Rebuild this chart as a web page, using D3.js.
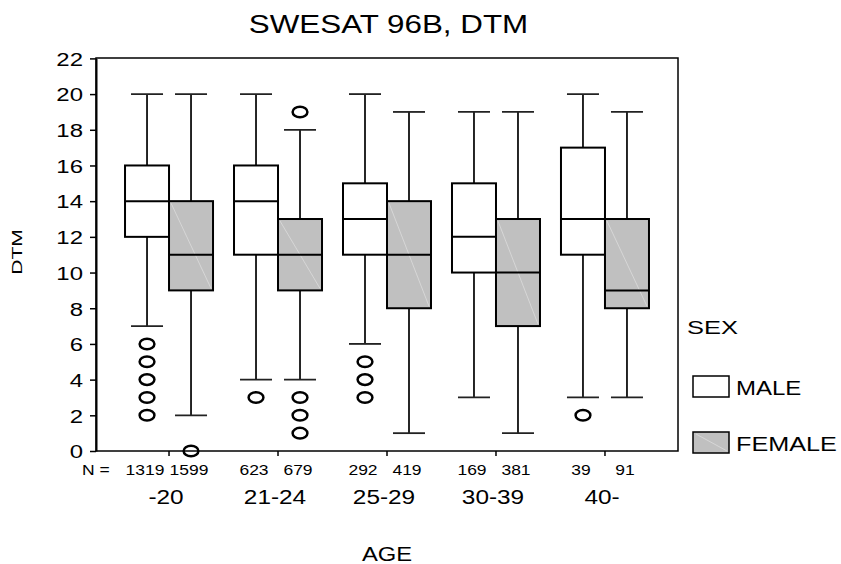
<!DOCTYPE html>
<html lang="en">
<head>
<meta charset="utf-8" />
<title>SWESAT 96B, DTM</title>
<style>
   body { margin:0; background:#fff; }
   text { font-family:"Liberation Sans", Arial, sans-serif; fill:#000; }
</style>
<script src="https://d3js.org/d3.v7.min.js"></script>
</head>
<body>
<svg id="main" width="841" height="564"></svg>
<script>
// data
var ages = ['-20','21-24','25-29','30-39','40-'];
var sexes = ['MALE','FEMALE'];
var nMale = [1319,623,292,169,39];
var nFemale = [1599,679,419,381,91];
// [low whisker, q1, median, q3, high whisker]
var maleStats = [[7,12,14,16,20],[4,11,14,16,20],[6,11,13,15,20],[3,10,12,15,19],[3,11,13,17,20]];
var femaleStats = [[2,9,11,14,20],[4,9,11,13,18],[1,8,11,14,19],[1,7,10,13,19],[3,8,9,13,19]];
var maleOutliers = [[6,5,4,3,2],[3],[5,4,3],[],[2]];
var femaleOutliers = [[0],[19,3,2,1],[],[],[]];
var yTicks = [0,2,4,6,8,10,12,14,16,18,20,22];

var svg = d3.select('#main');
var pLeft = 96, pRight = 678, pTop = 58, pBottom = 451;

var y = d3.scaleLinear().domain([0,22]).range([pBottom,pTop+0.4]);
var x = d3.scaleBand().domain(ages).range([pLeft,pRight]).paddingInner(0).paddingOuter(0.17);
var xs = d3.scaleBand().domain(sexes).range([-44,44]);
var fills = {MALE:'#ffffff', FEMALE:'#c0c0c0'};

function fcx(age) { return x(age)+x.bandwidth()/2; };
// stretched text, like the original rendering
function ftext(g,str,tx,ty,size,sx,anchor,rot) {
   return g.append('text')
      .attr('transform','translate('+tx+','+ty+')'+(rot?' rotate('+rot+')':'')+' scale('+sx+',1)')
      .style('font-size',size+'px')
      .attr('text-anchor',anchor||'middle')
      .text(str);
};

// frame
svg.append('rect').attr('x',pLeft).attr('y',pTop).attr('width',pRight-pLeft).attr('height',pBottom-pTop)
   .attr('fill','none').attr('stroke','#000').attr('stroke-width',1.5);

// y axis
var yax = svg.append('g').attr('transform','translate('+pLeft+',0)')
   .call(d3.axisLeft(y).tickValues(yTicks).tickSize(6).tickSizeOuter(0));
yax.select('.domain').attr('stroke-width',2);
yax.selectAll('line').attr('stroke-width',1.5);
yax.selectAll('text').attr('x',0).attr('dy',null)
   .attr('transform','translate(-13,6.8) scale(1.26,1)')
   .style('font-size','19px').style('font-family','"Liberation Sans", Arial, sans-serif')
   .attr('fill','#000');

// x axis ticks at category centers
svg.append('g').selectAll('line').data(ages).enter().append('line')
   .attr('x1',fcx).attr('x2',fcx).attr('y1',pBottom).attr('y2',pBottom+5)
   .attr('stroke','#000').attr('stroke-width',1.5);

// build box records
var boxes = [];
ages.forEach(function(a,i) {
   boxes.push({age:a,sex:'MALE',s:maleStats[i],out:maleOutliers[i],n:nMale[i]});
   boxes.push({age:a,sex:'FEMALE',s:femaleStats[i],out:femaleOutliers[i],n:nFemale[i]});
});

var bw = xs.bandwidth(), capw = 32;
var gb = svg.append('g').selectAll('g').data(boxes).enter().append('g')
   .attr('transform',function(d) { return 'translate('+(fcx(d.age)+xs(d.sex))+',0)'; });

// whiskers
gb.append('line').attr('x1',bw/2).attr('x2',bw/2)
   .attr('y1',function(d) { return y(d.s[4]); }).attr('y2',function(d) { return y(d.s[3]); })
   .attr('stroke','#000').attr('stroke-width',1.7);
gb.append('line').attr('x1',bw/2).attr('x2',bw/2)
   .attr('y1',function(d) { return y(d.s[1]); }).attr('y2',function(d) { return y(d.s[0]); })
   .attr('stroke','#000').attr('stroke-width',1.7);
[0,4].forEach(function(k) {
   gb.append('line').attr('x1',bw/2-capw/2).attr('x2',bw/2+capw/2)
      .attr('y1',function(d) { return y(d.s[k]); }).attr('y2',function(d) { return y(d.s[k]); })
      .attr('stroke','#222').attr('stroke-width',1.8);
});
// box
gb.append('rect').attr('x',0).attr('width',bw)
   .attr('y',function(d) { return y(d.s[3]); })
   .attr('height',function(d) { return y(d.s[1])-y(d.s[3]); })
   .attr('fill',function(d) { return fills[d.sex]; })
   .attr('stroke','#000').attr('stroke-width',2);
// faint diagonal in the grey fill
gb.filter(function(d) { return d.sex==='FEMALE'; }).append('line')
   .attr('x1',2).attr('x2',bw-2)
   .attr('y1',function(d) { return y(d.s[3])+2; }).attr('y2',function(d) { return y(d.s[1])-2; })
   .attr('stroke','#dcdcdc').attr('stroke-width',0.8);
// median
gb.append('line').attr('x1',0).attr('x2',bw)
   .attr('y1',function(d) { return y(d.s[2]); }).attr('y2',function(d) { return y(d.s[2]); })
   .attr('stroke','#000').attr('stroke-width',2);
// outliers
gb.selectAll('ellipse').data(function(d) { return d.out; }).enter().append('ellipse')
   .attr('cx',bw/2).attr('cy',function(v) { return y(v); })
   .attr('rx',7.4).attr('ry',5.3)
   .attr('fill','none').attr('stroke','#000').attr('stroke-width',2.5);

// N row
ftext(svg,'N =',82,474.5,14,1.25,'start');
boxes.forEach(function(d) {
   ftext(svg,String(d.n),fcx(d.age)+xs(d.sex)+bw/2-2,474.5,14,1.25);
});
// category labels
ages.forEach(function(a) { ftext(svg,a,fcx(a)-3,503.5,19.5,1.25); });

// titles
ftext(svg,'SWESAT 96B, DTM',388.5,33,25.5,1.23);
ftext(svg,'AGE',387,561,19.5,1.22);
ftext(svg,'DTM',21.5,252,15.5,1.36,'middle',-90);

// legend
ftext(svg,'SEX',687,334,19,1.34,'start');
var lg = svg.append('g').selectAll('g').data(sexes).enter().append('g')
   .attr('transform',function(d,i) { return 'translate(693,'+(376+i*56)+')'; });
lg.append('rect').attr('width',36).attr('height',21)
   .attr('fill',function(d) { return fills[d]; })
   .attr('stroke','#000').attr('stroke-width',1.5);
lg.filter(function(d) { return d==='FEMALE'; }).append('line')
   .attr('x1',3).attr('y1',2).attr('x2',34).attr('y2',19)
   .attr('stroke','#dcdcdc').attr('stroke-width',0.8);
lg.each(function(d) {
   ftext(d3.select(this),d,43,18.5,20.5,d==='MALE'?1.17:1.23,'start');
});
</script>
</body>
</html>
